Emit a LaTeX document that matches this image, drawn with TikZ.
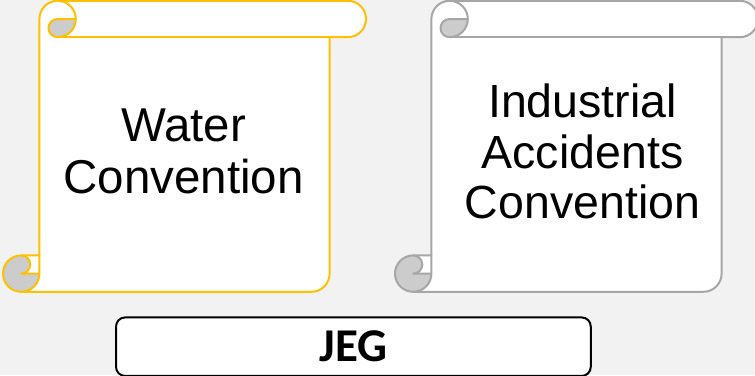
\documentclass[tikz,border=0pt]{standalone}
\usepackage{fontspec}
\setmainfont{Liberation Sans}
\newfontfamily\jegfont{Carlito}
\definecolor{bgc}{HTML}{F2F2F2}
\definecolor{goldc}{HTML}{FFC000}
\definecolor{grayc}{HTML}{A6A6A6}
\definecolor{curlc}{HTML}{CCCCCC}
\newcommand{\myscroll}[1]{%
  \fill[white] (36.4,254.6) -- (36.4,18.2) arc[start angle=180,end angle=270,radius=18.2]
    -- (344.8,0) arc[start angle=270,end angle=450,radius=18.2]
    -- (326.6,36.4) -- (326.6,272.8) arc[start angle=0,end angle=90,radius=18.2]
    -- (18.2,291) arc[start angle=90,end angle=270,radius=18.2] -- cycle;
  \fill[curlc] (72.8,18.2) arc[start angle=0,end angle=90,radius=18.2]
    arc[start angle=90,end angle=270,radius=9.1] -- cycle;
  \fill[curlc] (36.4,272.8) arc[start angle=0,end angle=270,radius=18.2]
    arc[start angle=270,end angle=450,radius=9.1] -- cycle;
  \begin{scope}[scrollline,draw=#1]
  \draw (36.4,254.6) -- (36.4,18.2) arc[start angle=180,end angle=270,radius=18.2]
    -- (344.8,0) arc[start angle=270,end angle=450,radius=18.2]
    -- (326.6,36.4) -- (326.6,272.8) arc[start angle=0,end angle=90,radius=18.2]
    -- (18.2,291) arc[start angle=90,end angle=270,radius=18.2] -- cycle;
  \draw (54.6,0) arc[start angle=270,end angle=450,radius=18.2]
    arc[start angle=90,end angle=270,radius=9.1] -- (72.8,18.2);
  \draw (326.6,36.4) -- (54.6,36.4);
  \draw (18.2,254.6) arc[start angle=270,end angle=450,radius=9.1] -- (36.4,272.8);
  \draw (18.2,291) arc[start angle=90,end angle=0,radius=18.2] -- (36.4,254.6);
  \end{scope}}
\begin{document}
\begin{tikzpicture}[x=1pt,y=-1pt,
  scrollline/.style={line width=2pt,line join=round},
  bigtext/.style={align=center,inner sep=0pt,font=\fontsize{47.5}{52}\selectfont},
  midtext/.style={align=center,inner sep=0pt,font=\fontsize{46.5}{50.5}\selectfont},
  jegbox/.style={draw=black,line width=2pt,fill=white,rounded corners=9pt,
    minimum width=474.7pt,minimum height=58.5pt,inner sep=0pt,
    font=\jegfont\bfseries\fontsize{47}{50}\selectfont}]
\fill[bgc] (0,0) rectangle (755,375);
\useasboundingbox (0,0) rectangle (755,375);
\begin{scope}[shift={(3,0.8)}]
  \myscroll{goldc}
\end{scope}
\begin{scope}[shift={(395,0.8)}]
  \myscroll{grayc}
\end{scope}
\node[bigtext] (water) at (183.5,151.7) {Water\\Convention};
\node[midtext] (industrial) at (582.5,151.7) {Industrial\\Accidents\\Convention};
\node[jegbox] (jeg) at (353.4,346.7) {JEG};
\end{tikzpicture}
\end{document}
